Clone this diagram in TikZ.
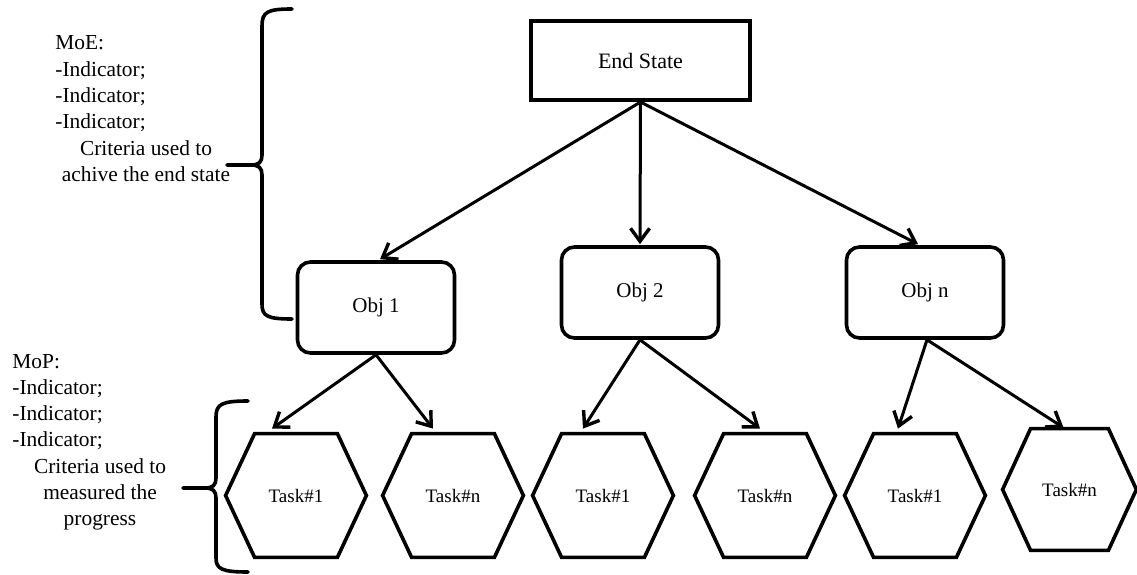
\documentclass[tikz,border=0pt]{standalone}
\usepackage{fontspec}
\setmainfont{Liberation Serif}
\usetikzlibrary{arrows.meta}
\newcommand\hexoutline[2]{%
  \draw[hexline] (#1.west) -- ([shift={(#2,0)}]#1.north west) -- ([shift={(-#2,0)}]#1.north east)
    -- (#1.east) -- ([shift={(-#2,0)}]#1.south east) -- ([shift={(#2,0)}]#1.south west) -- cycle;}
\begin{document}
\begin{tikzpicture}[x=0.5pt,y=-0.5pt,
  txt/.style={inner sep=0pt,font=\fontsize{10.7}{13}\selectfont},
  endbox/.style={draw,line width=2pt,minimum width=109.5pt,minimum height=39.5pt,inner sep=0pt,font=\fontsize{11}{13}\selectfont},
  objbox/.style={draw,line width=1.8pt,rounded corners=6.5pt,minimum width=78.5pt,minimum height=45.5pt,inner sep=0pt,font=\fontsize{10.5}{13}\selectfont},
  hexnode/.style={minimum width=70pt,minimum height=61.5pt,inner sep=0pt,font=\fontsize{9.5}{12}\selectfont},
  hexline/.style={line width=1.8pt,line join=miter},
  arr/.style={line width=1.5pt,-{Straight Barb[length=6.5pt,width=9.5pt,line width=1.7pt]}},
  bracestyle/.style={line width=1.8pt,line cap=round}]
\useasboundingbox[fill=white] (0,0) rectangle (1137,574);

% left texts
\node[txt,anchor=base west] (moe1) at (55,49) {MoE:};
\node[txt,anchor=base west] (moe2) at (55,76) {-Indicator;};
\node[txt,anchor=base west] (moe3) at (55,102) {-Indicator;};
\node[txt,anchor=base west] (moe4) at (55,128) {-Indicator;};
\node[txt,anchor=base] (moe5) at (146,155) {Criteria used to};
\node[txt,anchor=base] (moe6) at (146,181) {achive the end state};

\node[txt,anchor=base west] (mop1) at (12,368) {MoP:};
\node[txt,anchor=base west] (mop2) at (12,394) {-Indicator;};
\node[txt,anchor=base west] (mop3) at (12,420) {-Indicator;};
\node[txt,anchor=base west] (mop4) at (12,446) {-Indicator;};
\node[txt,anchor=base] (mop5) at (100,473) {Criteria used to};
\node[txt,anchor=base] (mop6) at (100,499) {measured the};
\node[txt,anchor=base] (mop7) at (100,525) {progress};

% braces
\draw[bracestyle] (292,9) .. controls (267,9) and (262,12) .. (262,26) -- (262,155)
  .. controls (262,162) and (259,165) .. (251,165) -- (227,165);
\draw[bracestyle] (251,165) .. controls (259,165) and (262,168) .. (262,175) -- (262,304)
  .. controls (262,316) and (267,319) .. (292,319);
\draw[bracestyle] (248,401) .. controls (222,401) and (216,404) .. (216,417) -- (216,478)
  .. controls (216,485) and (213,488) .. (205,488) -- (183,488);
\draw[bracestyle] (205,488) .. controls (213,488) and (216,491) .. (216,498) -- (216,558)
  .. controls (216,569) and (222,572) .. (248,572);

% nodes
\node[endbox] (es) at (640.5,60.5) {End State};
\node[objbox] (o1) at (376,307.5) {Obj 1};
\node[objbox] (o2) at (640,292.5) {Obj 2};
\node[objbox] (on) at (925,292.5) {Obj n};

\node[hexnode] (t1) at (296,495.5) {Task\#1};
\node[hexnode] (t2) at (453,495.5) {Task\#n};
\node[hexnode] (t3) at (603,495.5) {Task\#1};
\node[hexnode] (t4) at (765,495.5) {Task\#n};
\node[hexnode] (t5) at (915,495.5) {Task\#1};
\node[hexnode,minimum width=66.5pt,minimum height=60.5pt] (t6) at (1069.5,489.5) {Task\#n};
\hexoutline{t1}{29}
\hexoutline{t2}{29}
\hexoutline{t3}{29}
\hexoutline{t4}{29}
\hexoutline{t5}{29}
\hexoutline{t6}{28}

% connectors
\draw[arr] (es.south) -- ([shift={(4,-1)}]o1.north);
\draw[arr] (es.south) -- ([shift={(0,-1)}]o2.north);
\draw[arr] (es.south) -- ([shift={(-7,-1)}]on.north);

\draw[arr] (o1.south) -- ([shift={(-24,-5)}]t1.north);
\draw[arr] (o1.south) -- ([shift={(-20,-5)}]t2.north);
\draw[arr] (o2.south) -- ([shift={(-20,-5)}]t3.north);
\draw[arr] (o2.south) -- ([shift={(-5,-5)}]t4.north);
\draw[arr] ([shift={(2,0)}]on.south) -- ([shift={(-17,-5)}]t5.north);
\draw[arr] ([shift={(2,0)}]on.south) -- ([shift={(-6,-1)}]t6.north);
\end{tikzpicture}
\end{document}
